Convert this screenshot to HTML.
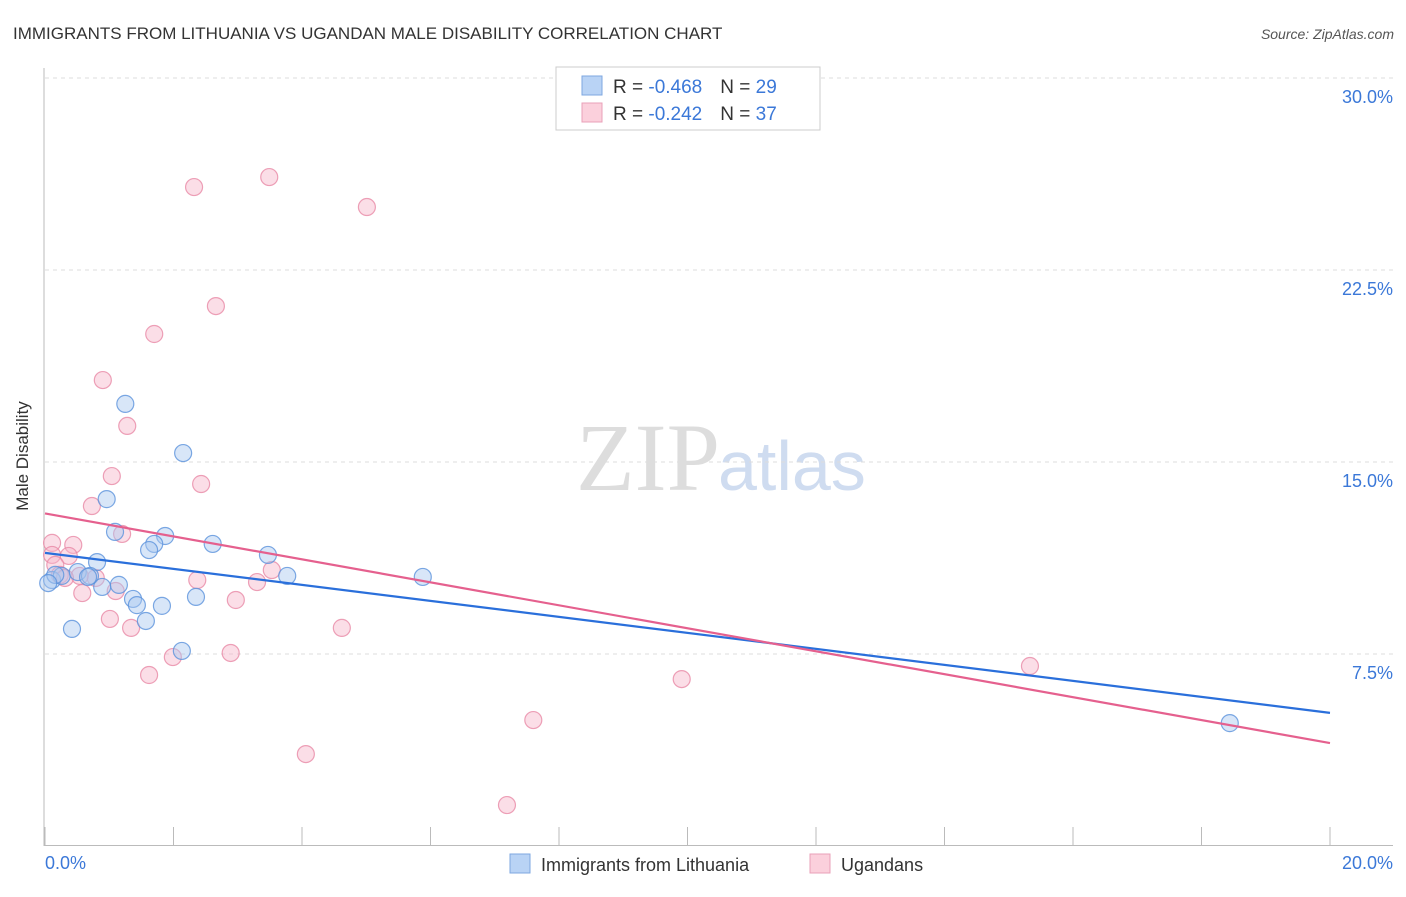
<!DOCTYPE html>
<html><head><meta charset="utf-8"><style>
body{margin:0;background:#fff;font-family:"Liberation Sans",sans-serif}
</style></head><body>
<svg width="1406" height="892" xmlns="http://www.w3.org/2000/svg" style="font-family:'Liberation Sans',sans-serif">
<text x="13" y="39" font-size="17" fill="#333">IMMIGRANTS FROM LITHUANIA VS UGANDAN MALE DISABILITY CORRELATION CHART</text>
<text x="1394" y="39" font-size="14" fill="#555" text-anchor="end" font-style="italic">Source: ZipAtlas.com</text>
<text x="720" y="490" font-size="96" fill="#ddd" text-anchor="end" font-family="Liberation Serif">ZIP</text>
<text x="718" y="490" font-size="70" fill="#cfdcf0">atlas</text>
<g id="grid"></g>
<line x1="44" y1="68" x2="44" y2="846" stroke="#bbb"/>
<line x1="44" y1="845.5" x2="1393" y2="845.5" stroke="#bbb"/>
<g id="xticks"></g>
<text x="28" y="456" font-size="17" fill="#333" text-anchor="middle" transform="rotate(-90 28 456)">Male Disability</text>
<text x="45" y="869" font-size="18" fill="#3b78d8">0.0%</text>
<text x="1393" y="869" font-size="18" fill="#3b78d8" text-anchor="end">20.0%</text>
<g id="marks"></g>
<g>
<rect x="556" y="67" width="264" height="63" fill="#fff" stroke="#ccc"/>
<rect x="582" y="76" width="20" height="19" fill="#b9d3f5" stroke="#7ea7e0"/>
<rect x="582" y="103" width="20" height="19" fill="#fbd0dc" stroke="#eaa0b8"/>
<text x="613" y="93" font-size="19" fill="#333">R = <tspan fill="#3b78d8">-0.468</tspan><tspan dx="18">N = </tspan><tspan fill="#3b78d8">29</tspan></text>
<text x="613" y="120" font-size="19" fill="#333">R = <tspan fill="#3b78d8">-0.242</tspan><tspan dx="18">N = </tspan><tspan fill="#3b78d8">37</tspan></text>
</g>
<g><rect x="510" y="854" width="20" height="19" fill="#b9d3f5" stroke="#7ea7e0"/><text x="541" y="871" font-size="18" fill="#333">Immigrants from Lithuania</text></g>
<g><rect x="810" y="854" width="20" height="19" fill="#fbd0dc" stroke="#eaa0b8"/><text x="841" y="871" font-size="18" fill="#333">Ugandans</text></g>
</svg>
<script>
const yTicks=[7.5,15,22.5,30];
const yTickLabels=["7.5%","15.0%","22.5%","30.0%"];
const xTicks=[0,2,4,6,8,10,12,14,16,18,20];
const blueX=[1.25,2.15,0.96,1.09,1.87,1.70,1.62,2.61,3.47,0.81,3.77,5.88,0.11,0.26,0.51,0.70,1.15,0.89,1.37,1.43,1.82,2.35,1.57,0.42,2.13,18.44,0.16,0.05,0.67];
const blueY=[17.27,15.35,13.55,12.27,12.11,11.80,11.56,11.80,11.37,11.09,10.55,10.51,10.39,10.55,10.70,10.55,10.20,10.12,9.65,9.41,9.38,9.73,8.79,8.48,7.62,4.80,10.59,10.27,10.51];
const pinkX=[2.32,3.49,5.01,2.66,1.70,0.90,1.28,1.04,2.43,0.73,1.20,0.11,0.44,0.11,0.37,0.79,0.54,1.10,0.58,1.01,1.34,2.37,3.30,3.53,2.97,4.62,2.89,1.99,1.62,9.91,15.33,7.60,4.06,7.19,0.16,0.23,0.31];
const pinkY=[25.74,26.13,24.96,21.09,20.0,18.20,16.41,14.45,14.14,13.28,12.19,11.84,11.76,11.37,11.33,10.47,10.55,9.96,9.88,8.87,8.52,10.39,10.31,10.78,9.61,8.52,7.54,7.38,6.68,6.52,7.03,4.92,3.59,1.60,10.98,10.59,10.47];
const blueTrend=[11.45,5.20];
const pinkTrend=[12.99,4.02];
const NS="http://www.w3.org/2000/svg";
const sx=v=>45+v/20*1285, sy=v=>846-v/30*768;
function mk(t,a,p){const e=document.createElementNS(NS,t);for(const k in a)e.setAttribute(k,a[k]);p.appendChild(e);return e;}
const grid=document.getElementById('grid');
yTicks.forEach((v,i)=>{
 const l=mk('line',{x1:45,x2:1393,y1:sy(v),y2:sy(v),stroke:'#ddd','stroke-dasharray':'4,4'},grid);
 
 
 const t=mk('text',{x:1393,y:sy(v)+25,'font-size':18,fill:'#3b78d8','text-anchor':'end'},grid);
 t.textContent=yTickLabels[i];
 
 
});
const xt=document.getElementById('xticks');
xTicks.forEach(v=>{
 const l=mk('line',{x1:sx(v),x2:sx(v),y1:827,y2:846,stroke:'#bbb'},xt);
 
 
});
const marks=document.getElementById('marks');
function pts(X,Y,fill,stroke,name){X.forEach((x,i)=>{
 const c=mk('circle',{cx:sx(x),cy:sy(Y[i]),r:8.5,fill:fill,'fill-opacity':0.45,stroke:stroke,'stroke-width':1.2,'stroke-opacity':0.8},marks);
 
 
});}
pts(pinkX,pinkY,'#f7b6c9','#e88aa6','ugandans-point');
pts(blueX,blueY,'#a9c8f0','#5b92dc','lithuania-point');
const bl=mk('line',{x1:sx(0),y1:sy(blueTrend[0]),x2:sx(20),y2:sy(blueTrend[1]),stroke:'#2a6fdb','stroke-width':2.2},marks);


const pl=mk('line',{x1:sx(0),y1:sy(pinkTrend[0]),x2:sx(20),y2:sy(pinkTrend[1]),stroke:'#e5608e','stroke-width':2.2},marks);


</script>
</body></html>
